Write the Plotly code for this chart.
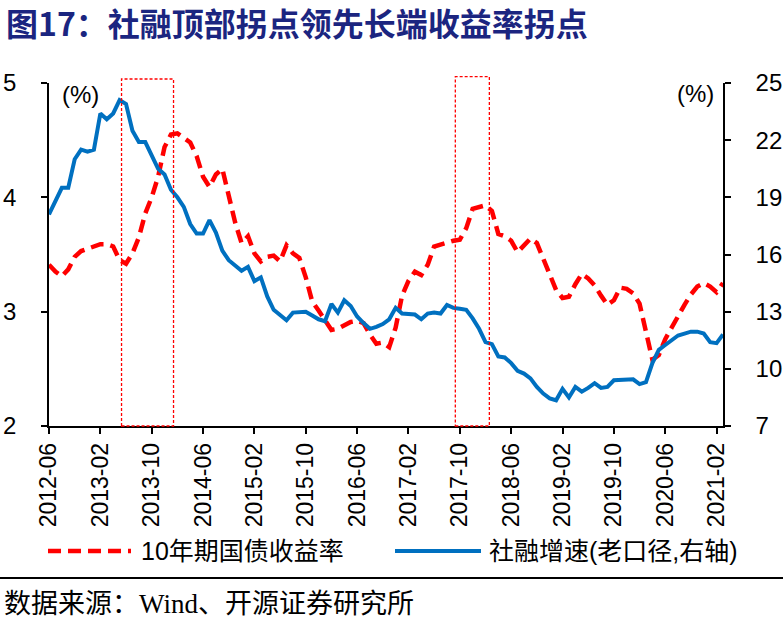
import pandas as pd
import plotly.graph_objects as go

# ---------------- data ----------------
start_month = "2012-06-01"
end_month = "2021-03-01"
months = list(pd.date_range(start_month, end_month, freq="MS").strftime("%Y-%m"))

# 10-year government bond yield (%), left axis
bond_yield = [3.41, 3.35, 3.31, 3.37, 3.48, 3.53, 3.55, 3.57, 3.59, 3.59,
              3.57, 3.45, 3.42, 3.51, 3.65, 3.86, 4.00, 4.18, 4.44, 4.55,
              4.56, 4.52, 4.48, 4.36, 4.18, 4.09, 4.20, 4.25, 4.03, 3.78,
              3.60, 3.66, 3.51, 3.44, 3.48, 3.49, 3.44, 3.58, 3.51, 3.47,
              3.30, 3.09, 3.01, 2.92, 2.84, 2.85, 2.88, 2.91, 2.92, 2.90,
              2.80, 2.72, 2.73, 2.69, 2.86, 3.14, 3.27, 3.35, 3.32, 3.41,
              3.57, 3.59, 3.61, 3.62, 3.63, 3.73, 3.90, 3.92, 3.93, 3.88,
              3.68, 3.66, 3.62, 3.52, 3.58, 3.64, 3.60, 3.47, 3.33, 3.19,
              3.12, 3.13, 3.24, 3.33, 3.29, 3.23, 3.14, 3.06, 3.10, 3.21,
              3.20, 3.16, 3.07, 2.83, 2.58, 2.62, 2.76, 2.86, 2.97, 3.06,
              3.15, 3.22, 3.25, 3.22, 3.17, 3.25]

# social financing growth (old caliber, %), right axis
tsf_growth = [18.1, 18.8, 19.5, 19.5, 21.0, 21.5, 21.4, 21.5, 23.4, 23.1,
              23.4, 24.1, 23.9, 22.5, 21.9, 21.9, 21.2, 20.5, 20.2, 19.4,
              19.0, 18.5, 17.6, 17.1, 17.1, 17.8, 17.15, 16.2, 15.7, 15.4,
              15.15, 15.35, 14.6, 14.8, 13.8, 13.1, 12.8, 12.55, 12.95, 12.95,
              13.0, 12.8, 12.6, 12.5, 13.4, 12.95, 13.6, 13.3, 12.75, 12.4,
              12.1, 12.2, 12.35, 12.6, 13.2, 12.9, 12.85, 12.85, 12.6, 12.9,
              12.95, 12.9, 13.35, 13.2, 13.15, 13.1, 12.65, 12.1, 11.4, 11.3,
              10.65, 10.6, 10.3, 9.9, 9.75, 9.5, 9.05, 8.7, 8.45, 8.35,
              8.95, 8.5, 9.05, 8.8, 9.0, 9.25, 9.0, 9.05, 9.4, 9.4,
              9.4, 9.45, 9.2, 9.3, 10.3, 11.0, 11.25, 11.5, 11.75, 11.85,
              11.95, 11.95, 11.85, 11.4, 11.35, 11.8]

tick_labels = months[::8]
left_range = [2, 5]
right_range = [7, 25]
left_ticks = [2, 3, 4, 5]
right_ticks = [7, 10, 13, 16, 19, 22, 25]

# highlighted turning-point windows: (start index, end index, top on left axis)
box_x0 = [11.3, 63.3]
box_x1 = [19.4, 68.6]
box_top = [5.035, 5.055]

name_yield = "10年期国债收益率"
name_tsf = "社融增速(老口径,右轴)"
title_text = "图17：社融顶部拐点领先长端收益率拐点"
source_text = "数据来源：Wind、开源证券研究所"

# ---------------- figure ----------------
W, H = 783, 622
ML, MR, MT, MB = 49, 60, 83, 196
PW, PH = W - ML - MR, H - MT - MB


def px(x):
    return (x - ML) / PW


def py(y):
    return (H - MB - y) / PH


FONT = "Liberation Sans, Arial, Noto Sans CJK SC, sans-serif"
RED = "#FF0000"
BLUE = "#0070C0"

fig = go.Figure()
fig.add_trace(go.Scatter(x=months, y=bond_yield, name=name_yield, mode="lines",
                         line=dict(color=RED, width=4.5, dash="13px,7px"),
                         yaxis="y", showlegend=False))
fig.add_trace(go.Scatter(x=months, y=tsf_growth, name=name_tsf, mode="lines",
                         line=dict(color=BLUE, width=4),
                         yaxis="y2", showlegend=False))

n_last = len(months) - 1
lo, hi = left_range
shapes = []
for a, b, t in zip(box_x0, box_x1, box_top):
    shapes.append(dict(type="rect", xref="x domain", yref="y domain",
                       x0=a / n_last, x1=b / n_last,
                       y0=0.0, y1=(t - lo) / (hi - lo),
                       line=dict(color=RED, width=1.3, dash="3px,2px"),
                       fillcolor="rgba(0,0,0,0)", layer="above"))

# legend samples
shapes.append(dict(type="line", xref="paper", yref="paper",
                   x0=px(48), x1=px(131), y0=py(551), y1=py(551),
                   line=dict(color=RED, width=4.5, dash="13px,7px")))
shapes.append(dict(type="line", xref="paper", yref="paper",
                   x0=px(395), x1=px(481), y0=py(551), y1=py(551),
                   line=dict(color=BLUE, width=4)))
# separator line above source
shapes.append(dict(type="line", xref="paper", yref="paper",
                   x0=px(0), x1=px(W), y0=py(578), y1=py(578),
                   line=dict(color="black", width=2)))

annotations = [
    dict(text="<b>" + title_text + "</b>", xref="paper", yref="paper",
         x=px(4), y=py(22), showarrow=False,
         font=dict(family="Noto Sans CJK SC, sans-serif", size=32, color="#1B2580"),
         xanchor="left", yanchor="middle"),
    dict(text="(%)", xref="paper", yref="paper", x=px(80), y=py(95),
         showarrow=False, font=dict(family=FONT, size=24, color="black"),
         xanchor="center", yanchor="middle"),
    dict(text="(%)", xref="paper", yref="paper", x=px(695), y=py(93),
         showarrow=False, font=dict(family=FONT, size=24, color="black"),
         xanchor="center", yanchor="middle"),
    dict(text=name_yield, xref="paper", yref="paper", x=px(139), y=py(551),
         showarrow=False, font=dict(family=FONT, size=25, color="black"),
         xanchor="left", yanchor="middle"),
    dict(text=name_tsf, xref="paper", yref="paper", x=px(487), y=py(551),
         showarrow=False, font=dict(family=FONT, size=25, color="black"),
         xanchor="left", yanchor="middle"),
    dict(text=source_text, xref="paper", yref="paper", x=px(2), y=py(604),
         showarrow=False,
         font=dict(family="Liberation Serif, Times New Roman, Noto Sans CJK SC, serif",
                   size=27, color="black"),
         xanchor="left", yanchor="middle"),
]

fig.update_layout(
    width=W, height=H,
    margin=dict(l=ML, r=MR, t=MT, b=MB, pad=0, autoexpand=False),
    paper_bgcolor="white", plot_bgcolor="white",
    xaxis=dict(type="category", range=[0, n_last], automargin=False,
               tickmode="array", tickvals=tick_labels, ticktext=tick_labels,
               tickangle=-90, ticks="outside", ticklen=6, tickwidth=1.5, tickcolor="black",
               showline=True, linecolor="black", linewidth=1.5,
               showgrid=False, zeroline=False,
               tickfont=dict(family=FONT, size=23, color="black")),
    yaxis=dict(range=left_range, tickvals=left_ticks, ticks="outside", ticklen=6,
               tickwidth=1.5, tickcolor="black", automargin=False,
               showline=True, linecolor="black", linewidth=1.5,
               showgrid=False, zeroline=False, ticklabelstandoff=20,
               tickfont=dict(family=FONT, size=24, color="black")),
    yaxis2=dict(range=right_range, tickvals=right_ticks, overlaying="y", side="right",
                ticks="outside", ticklen=6, tickwidth=1.5, tickcolor="black",
                automargin=False,
                showline=True, linecolor="black", linewidth=1.5,
                showgrid=False, zeroline=False, ticklabelstandoff=20,
                tickfont=dict(family=FONT, size=24, color="black")),
    shapes=shapes,
    annotations=annotations,
    showlegend=False,
)

fig.write_html(
    "out.html",
    config={"displayModeBar": False},
    post_script="document.body.style.margin='0';document.body.style.overflow='hidden';",
)
